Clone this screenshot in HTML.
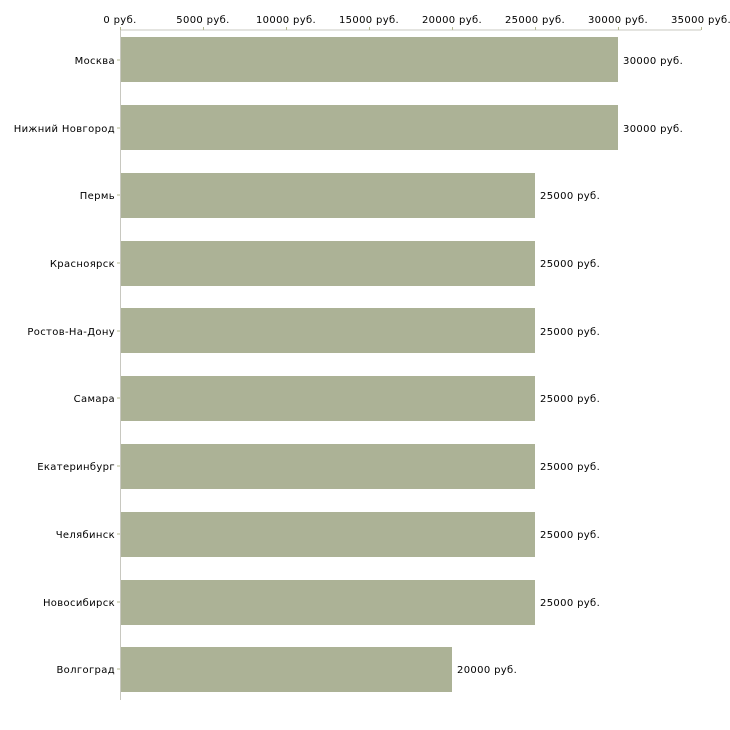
<!DOCTYPE html><html><head><meta charset="utf-8"><style>body{margin:0;background:#fff}svg{display:block}text{font-family:"DejaVu Sans","Liberation Sans",sans-serif;font-size:10px;fill:#000;letter-spacing:0.35px}</style></head><body>
<svg width="730" height="730" xmlns="http://www.w3.org/2000/svg">
<line x1="120" y1="30" x2="701" y2="30" stroke="#c8c8c0" stroke-width="1"/>
<line x1="120.5" y1="30" x2="120.5" y2="700" stroke="#c8c8c0" stroke-width="1"/>
<g stroke="#b4b890">
<line x1="120.5" y1="27" x2="120.5" y2="30"/><line x1="203.5" y1="27" x2="203.5" y2="30"/><line x1="286.5" y1="27" x2="286.5" y2="30"/><line x1="369.5" y1="27" x2="369.5" y2="30"/><line x1="452.5" y1="27" x2="452.5" y2="30"/><line x1="535.5" y1="27" x2="535.5" y2="30"/><line x1="618.5" y1="27" x2="618.5" y2="30"/><line x1="701.5" y1="27" x2="701.5" y2="30"/>
</g>
<g text-anchor="middle">
<text x="120" y="23">0 руб.</text><text x="203" y="23">5000 руб.</text><text x="286" y="23">10000 руб.</text><text x="369" y="23">15000 руб.</text><text x="452" y="23">20000 руб.</text><text x="535" y="23">25000 руб.</text><text x="618" y="23">30000 руб.</text><text x="701" y="23">35000 руб.</text>
</g>
<rect x="121" y="37" width="497" height="45" fill="#acb296"/>
<rect x="121" y="105" width="497" height="45" fill="#acb296"/>
<rect x="121" y="173" width="414" height="45" fill="#acb296"/>
<rect x="121" y="241" width="414" height="45" fill="#acb296"/>
<rect x="121" y="308" width="414" height="45" fill="#acb296"/>
<rect x="121" y="376" width="414" height="45" fill="#acb296"/>
<rect x="121" y="444" width="414" height="45" fill="#acb296"/>
<rect x="121" y="512" width="414" height="45" fill="#acb296"/>
<rect x="121" y="580" width="414" height="45" fill="#acb296"/>
<rect x="121" y="647" width="331" height="45" fill="#acb296"/>
<g text-anchor="end">
<text x="115" y="64">Москва</text><text x="115" y="132">Нижний Новгород</text><text x="115" y="199">Пермь</text><text x="115" y="267">Красноярск</text><text x="115" y="335">Ростов-На-Дону</text><text x="115" y="402">Самара</text><text x="115" y="470">Екатеринбург</text><text x="115" y="538">Челябинск</text><text x="115" y="606">Новосибирск</text><text x="115" y="673">Волгоград</text>
</g>
<g>
<text x="623" y="64">30000 руб.</text><text x="623" y="132">30000 руб.</text><text x="540" y="199">25000 руб.</text><text x="540" y="267">25000 руб.</text><text x="540" y="335">25000 руб.</text><text x="540" y="402">25000 руб.</text><text x="540" y="470">25000 руб.</text><text x="540" y="538">25000 руб.</text><text x="540" y="606">25000 руб.</text><text x="457" y="673">20000 руб.</text>
</g>
<g stroke="#b4b890">
<line x1="117" y1="60" x2="120" y2="60"/><line x1="117" y1="128" x2="120" y2="128"/><line x1="117" y1="195" x2="120" y2="195"/><line x1="117" y1="263" x2="120" y2="263"/><line x1="117" y1="331" x2="120" y2="331"/><line x1="117" y1="398" x2="120" y2="398"/><line x1="117" y1="466" x2="120" y2="466"/><line x1="117" y1="534" x2="120" y2="534"/><line x1="117" y1="602" x2="120" y2="602"/><line x1="117" y1="669" x2="120" y2="669"/>
</g>
</svg></body></html>
